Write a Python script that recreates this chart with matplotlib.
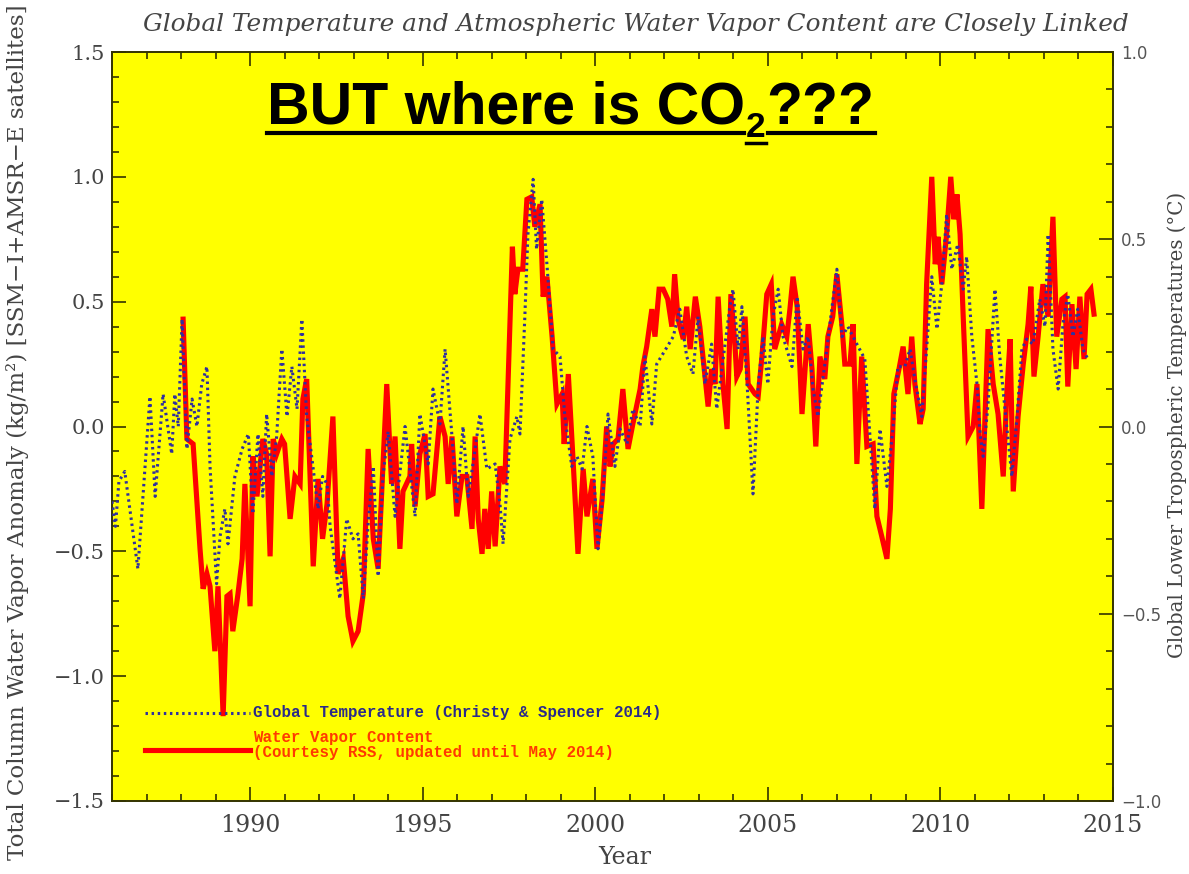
import matplotlib
matplotlib.use("Agg")
import matplotlib.pyplot as plt
from matplotlib.ticker import MultipleLocator, FixedLocator, FuncFormatter
from matplotlib.lines import Line2D
from matplotlib.transforms import IdentityTransform

# ---------------- data ----------------
wv_year = [1988.06, 1988.17, 1988.35, 1988.55, 1988.64, 1988.75, 1988.84, 1988.98, 1989.07, 1989.22,
           1989.33, 1989.42, 1989.50, 1989.65, 1989.77, 1989.85, 1990.00, 1990.08, 1990.20, 1990.37,
           1990.48, 1990.58, 1990.67, 1990.77, 1990.92, 1991.00, 1991.16, 1991.30, 1991.45, 1991.53,
           1991.64, 1991.83, 1991.97, 1992.10, 1992.23, 1992.40, 1992.55, 1992.70, 1992.84, 1992.98,
           1993.13, 1993.28, 1993.42, 1993.57, 1993.71, 1993.96, 1994.10, 1994.20, 1994.34, 1994.43,
           1994.63, 1994.68, 1994.78, 1994.92, 1995.07, 1995.16, 1995.30, 1995.50, 1995.65, 1995.74,
           1995.85, 1995.99, 1996.14, 1996.28, 1996.43, 1996.52, 1996.61, 1996.72, 1996.80, 1996.90,
           1997.00, 1997.10, 1997.24, 1997.38, 1997.60, 1997.67, 1997.76, 1997.90, 1998.02, 1998.16,
           1998.25, 1998.40, 1998.49, 1998.60, 1998.75, 1998.89, 1999.04, 1999.10, 1999.22, 1999.36,
           1999.50, 1999.65, 1999.76, 1999.93, 2000.05, 2000.20, 2000.33, 2000.43, 2000.52, 2000.66,
           2000.80, 2000.95, 2001.09, 2001.30, 2001.38, 2001.49, 2001.64, 2001.73, 2001.85, 2001.97,
           2002.10, 2002.22, 2002.30, 2002.40, 2002.55, 2002.65, 2002.75, 2002.90, 2003.03, 2003.18,
           2003.27, 2003.37, 2003.47, 2003.56, 2003.70, 2003.82, 2003.93, 2004.05, 2004.10, 2004.20,
           2004.34, 2004.43, 2004.63, 2004.72, 2004.83, 2004.97, 2005.10, 2005.20, 2005.30, 2005.40,
           2005.55, 2005.64, 2005.73, 2005.85, 2005.99, 2006.17, 2006.28, 2006.39, 2006.51, 2006.65,
           2006.74, 2006.88, 2007.00, 2007.15, 2007.23, 2007.38, 2007.47, 2007.58, 2007.72, 2007.87,
           2008.05, 2008.16, 2008.30, 2008.45, 2008.55, 2008.65, 2008.80, 2008.92, 2009.06, 2009.17,
           2009.26, 2009.41, 2009.50, 2009.60, 2009.75, 2009.85, 2009.93, 2010.04, 2010.18, 2010.30,
           2010.39, 2010.48, 2010.57, 2010.66, 2010.80, 2010.95, 2011.06, 2011.20, 2011.38, 2011.53,
           2011.67, 2011.82, 2011.93, 2012.02, 2012.11, 2012.25, 2012.40, 2012.54, 2012.62, 2012.71,
           2012.83, 2012.97, 2013.12, 2013.26, 2013.37, 2013.52, 2013.61, 2013.69, 2013.81, 2013.93,
           2014.04, 2014.16, 2014.25, 2014.36, 2014.45]
wv_anom = [0.43, -0.05, -0.07, -0.49, -0.65, -0.59, -0.64, -0.90, -0.64, -1.16,
           -0.68, -0.67, -0.82, -0.67, -0.53, -0.23, -0.72, -0.12, -0.28, -0.05,
           -0.11, -0.52, -0.05, -0.11, -0.05, -0.07, -0.37, -0.20, -0.23, 0.11,
           0.19, -0.56, -0.21, -0.45, -0.31, 0.04, -0.59, -0.53, -0.76, -0.86,
           -0.82, -0.67, -0.09, -0.45, -0.57, 0.17, -0.23, -0.04, -0.49, -0.26,
           -0.20, -0.07, -0.32, -0.11, -0.03, -0.28, -0.27, 0.04, -0.04, -0.23,
           -0.04, -0.36, -0.20, -0.20, -0.41, -0.04, -0.37, -0.51, -0.33, -0.49,
           -0.26, -0.48, -0.16, -0.23, 0.72, 0.53, 0.63, 0.63, 0.91, 0.92,
           0.80, 0.89, 0.52, 0.60, 0.36, 0.09, 0.13, -0.07, 0.21, -0.14,
           -0.51, -0.17, -0.36, -0.21, -0.49, -0.29, 0.00, -0.16, -0.07, -0.05,
           0.15, -0.09, 0.01, 0.15, 0.24, 0.32, 0.47, 0.36, 0.55, 0.55,
           0.51, 0.40, 0.61, 0.43, 0.35, 0.48, 0.31, 0.52, 0.40, 0.20,
           0.08, 0.23, 0.17, 0.52, 0.17, -0.01, 0.53, 0.32, 0.20, 0.23,
           0.44, 0.17, 0.13, 0.12, 0.28, 0.53, 0.57, 0.31, 0.36, 0.41,
           0.36, 0.47, 0.60, 0.48, 0.05, 0.41, 0.23, -0.08, 0.28, 0.19,
           0.36, 0.44, 0.61, 0.40, 0.25, 0.25, 0.41, -0.15, 0.28, -0.08,
           -0.07, -0.36, -0.44, -0.53, -0.33, 0.13, 0.23, 0.32, 0.13, 0.36,
           0.17, 0.01, 0.07, 0.57, 1.00, 0.65, 0.76, 0.57, 0.77, 1.00,
           0.83, 0.93, 0.77, 0.44, -0.04, 0.00, 0.17, -0.33, 0.39, 0.17,
           0.05, -0.20, 0.15, 0.35, -0.26, 0.04, 0.25, 0.41, 0.56, 0.20,
           0.36, 0.57, 0.44, 0.84, 0.36, 0.51, 0.52, 0.16, 0.49, 0.23,
           0.52, 0.27, 0.53, 0.55, 0.45]

# temperature, expressed on the left-axis scale as drawn in the reference
t_year = [1986.00, 1986.10, 1986.20, 1986.37, 1986.75, 1987.10, 1987.25, 1987.48, 1987.73, 1987.82,
          1987.92, 1988.03, 1988.17, 1988.32, 1988.46, 1988.60, 1988.75, 1988.84, 1989.03, 1989.13,
          1989.27, 1989.36, 1989.56, 1989.77, 1989.95, 1990.08, 1990.23, 1990.37, 1990.48, 1990.63,
          1990.77, 1990.92, 1991.07, 1991.21, 1991.36, 1991.50, 1991.64, 1991.83, 1991.97, 1992.10,
          1992.23, 1992.32, 1992.60, 1992.80, 1992.98, 1993.13, 1993.28, 1993.42, 1993.57, 1993.71,
          1993.85, 1994.00, 1994.20, 1994.49, 1994.78, 1994.92, 1995.16, 1995.30, 1995.50, 1995.65,
          1995.85, 1995.99, 1996.17, 1996.32, 1996.52, 1996.66, 1996.86, 1997.10, 1997.24, 1997.33,
          1997.53, 1997.73, 1997.82, 1997.96, 1998.05, 1998.20, 1998.30, 1998.45, 1998.60, 1998.78,
          1998.98, 1999.12, 1999.32, 1999.47, 1999.62, 1999.76, 1999.93, 2000.08, 2000.23, 2000.37,
          2000.57, 2000.72, 2000.92, 2001.09, 2001.30, 2001.44, 2001.64, 2001.78, 2002.00, 2002.26,
          2002.45, 2002.65, 2002.83, 2002.98, 2003.18, 2003.37, 2003.52, 2003.76, 2003.90, 2003.99,
          2004.14, 2004.25, 2004.40, 2004.57, 2004.72, 2004.86, 2005.00, 2005.15, 2005.30, 2005.44,
          2005.70, 2005.85, 2006.02, 2006.17, 2006.31, 2006.45, 2006.71, 2006.86, 2007.00, 2007.15,
          2007.32, 2007.58, 2007.81, 2007.96, 2008.10, 2008.25, 2008.45, 2008.63, 2008.77, 2008.97,
          2009.12, 2009.26, 2009.46, 2009.60, 2009.75, 2009.90, 2010.04, 2010.18, 2010.33, 2010.50,
          2010.66, 2010.76, 2010.91, 2011.06, 2011.15, 2011.24, 2011.38, 2011.58, 2011.72, 2011.87,
          2012.07, 2012.22, 2012.36, 2012.50, 2012.68, 2012.88, 2013.03, 2013.12, 2013.26, 2013.41,
          2013.55, 2013.69, 2013.84, 2013.98, 2014.13, 2014.27]
t_anom = [-0.30, -0.40, -0.22, -0.18, -0.57, 0.12, -0.28, 0.13, -0.11, 0.13,
          0.00, 0.43, -0.09, 0.11, 0.00, 0.17, 0.24, -0.16, -0.63, -0.44,
          -0.33, -0.47, -0.20, -0.09, -0.03, -0.35, -0.03, -0.28, 0.05, -0.20,
          -0.04, 0.31, 0.04, 0.24, 0.07, 0.43, 0.04, -0.17, -0.33, -0.20,
          -0.23, -0.40, -0.69, -0.37, -0.45, -0.43, -0.69, -0.39, -0.16, -0.60,
          -0.20, -0.02, -0.36, 0.00, -0.36, 0.05, -0.15, 0.15, 0.01, 0.31,
          -0.04, -0.31, 0.00, -0.28, -0.09, 0.05, -0.17, -0.15, -0.31, -0.47,
          -0.05, 0.04, -0.03, 0.44, 0.77, 0.99, 0.71, 0.91, 0.65, 0.31,
          0.28, 0.04, -0.16, -0.12, -0.17, 0.00, -0.12, -0.49, -0.26, 0.05,
          -0.16, -0.01, -0.07, 0.07, 0.00, 0.28, 0.01, 0.25, 0.30, 0.36,
          0.47, 0.28, 0.21, 0.44, 0.17, 0.33, 0.07, 0.33, 0.48, 0.55,
          0.31, 0.48, 0.17, -0.27, 0.16, 0.36, 0.17, 0.44, 0.55, 0.36,
          0.24, 0.52, 0.31, 0.36, 0.15, 0.04, 0.31, 0.48, 0.63, 0.36,
          0.40, 0.33, 0.27, -0.04, -0.33, -0.01, -0.24, 0.00, 0.24, 0.24,
          0.31, 0.19, 0.04, 0.31, 0.60, 0.39, 0.57, 0.85, 0.63, 0.73,
          0.55, 0.68, 0.36, 0.17, -0.03, -0.12, 0.09, 0.55, 0.28, 0.07,
          -0.20, 0.04, 0.31, 0.35, 0.33, 0.51, 0.40, 0.77, 0.31, 0.15,
          0.41, 0.53, 0.36, 0.47, 0.31, 0.27]

x_major = [1990, 1995, 2000, 2005, 2010, 2015]
left_ticks = [-1.5, -1.0, -0.5, 0.0, 0.5, 1.0, 1.5]
right_ticks = [-1.0, -0.5, 0.0, 0.5, 1.0]

title = "Global Temperature and Atmospheric Water Vapor Content are Closely Linked"
left_label = "Total Column Water Vapor Anomaly (kg/m\u00b2) [SSM\u2212I+AMSR\u2212E satellites]"
right_label = "Global Lower Tropospheric Temperatures (\u00b0C)"
leg_temp = "Global Temperature (Christy & Spencer 2014)"
leg_wv = "Water Vapor Content\n(Courtesy RSS, updated until May 2014)"

# ---------------- figure ----------------
W, H = 1189, 874
fig = plt.figure(figsize=(W / 100, H / 100), dpi=100)
fig.patch.set_facecolor("white")
ax = fig.add_axes([112 / W, 73 / H, 1001 / W, 749 / H])
ax.set_facecolor("#ffff00")

RED = "#ff0000"
BLUE = "#30309e"
GRAY = "#444444"

ax.plot(wv_year, wv_anom, color=RED, lw=3.7, solid_joinstyle="miter", zorder=3)
ax.plot(t_year, t_anom, color=BLUE, lw=2.2, linestyle=(0, (0.8, 1.2)), zorder=4)

ax.set_xlim(1986, 2015)
ax.set_ylim(-1.5, 1.5)

ax.xaxis.set_major_locator(FixedLocator(x_major))
ax.xaxis.set_minor_locator(MultipleLocator(1))
ax.yaxis.set_major_locator(FixedLocator(left_ticks))
ax.yaxis.set_minor_locator(MultipleLocator(0.1))

fmt = FuncFormatter(lambda v, p: ("%.1f" % v).replace("-", "\u2212"))
ax.yaxis.set_major_formatter(fmt)

ax.tick_params(axis="x", which="both", direction="in", top=True, bottom=True,
               labelsize=17, labelcolor=GRAY, pad=9, color="#333300")
ax.tick_params(axis="y", which="both", direction="in", left=True, right=False,
               labelsize=15, labelcolor=GRAY, pad=5, color="#333300")
ax.tick_params(which="major", length=10, width=1.2)
ax.tick_params(which="minor", length=5, width=1.2)
for lab in ax.get_xticklabels() + ax.get_yticklabels():
    lab.set_family("DejaVu Serif")

for s in ax.spines.values():
    s.set_color("#333300")
    s.set_linewidth(1.4)

ax2 = ax.twinx()
ax2.set_ylim(-1.0, 1.0)
ax2.yaxis.set_major_locator(FixedLocator(right_ticks))
ax2.yaxis.set_minor_locator(MultipleLocator(0.1))
ax2.yaxis.set_major_formatter(fmt)
ax2.tick_params(axis="y", which="both", direction="in", labelsize=12,
                labelcolor="#555555", pad=6, color="#333300")
ax2.tick_params(which="major", length=10, width=1.2)
ax2.tick_params(which="minor", length=5, width=1.2)
for s in ax2.spines.values():
    s.set_visible(False)

# legend drawn inside the axes
ax.plot([0.033, 0.138], [0.1175, 0.1175], transform=ax.transAxes, color=BLUE,
        lw=2.2, linestyle=(0, (0.8, 1.2)), zorder=5)
ax.plot([0.033, 0.138], [0.068, 0.068], transform=ax.transAxes, color=RED,
        lw=3.7, zorder=5)
ax.text(0.141, 0.1175, leg_temp, transform=ax.transAxes, ha="left", va="center",
        family="Liberation Mono", fontweight="bold", fontsize=11.3, color="#2a2a8a", zorder=6)
ax.text(0.141, 0.075, leg_wv, transform=ax.transAxes, ha="left", va="center",
        family="Liberation Mono", fontweight="bold", fontsize=11.3, color="#ff3a00",
        linespacing=0.95, zorder=6)

# titles / labels
fig.text(636 / W, 1 - 25 / H, title, ha="center", va="center", style="italic",
         family="DejaVu Serif", fontsize=17.8, color=GRAY)
fig.text(625 / W, 1 - 857 / H, "Year", ha="center", va="center",
         family="DejaVu Serif", fontsize=17, color=GRAY)
fig.text(18 / W, 1 - 432 / H, left_label, ha="center", va="center", rotation=90,
         family="DejaVu Serif", fontsize=16.6, color=GRAY)
fig.text(1177 / W, 1 - 425 / H, right_label, ha="center", va="center", rotation=90,
         family="DejaVu Serif", fontsize=14.2, color=GRAY)

# big underlined headline "BUT where is CO2???"
fig.canvas.draw()
r = fig.canvas.get_renderer()
idt = IdentityTransform()
base_y = H - 124
fs = 42.5
hp = dict(family="Liberation Sans", fontweight="bold", color="black", va="baseline",
          ha="left", transform=idt, zorder=10)
t1 = fig.text(267, base_y, "BUT where is CO", fontsize=fs, **hp)
b1 = t1.get_window_extent(r)
t2 = fig.text(b1.x1 + 1, base_y - 13, "2", fontsize=fs * 0.6, **hp)
b2 = t2.get_window_extent(r)
t3 = fig.text(b2.x1 + 1, base_y, "???", fontsize=fs, **hp)
b3 = t3.get_window_extent(r)
ul = base_y - 9
fig.add_artist(Line2D([b1.x0, b1.x1 - 1], [ul, ul], transform=idt, color="black", lw=3))
fig.add_artist(Line2D([b2.x0, b2.x1], [base_y - 19, base_y - 19], transform=idt, color="black", lw=2.5))
fig.add_artist(Line2D([b3.x0 + 1, b3.x1], [ul, ul], transform=idt, color="black", lw=3))

fig.savefig("out.png", dpi=100)
